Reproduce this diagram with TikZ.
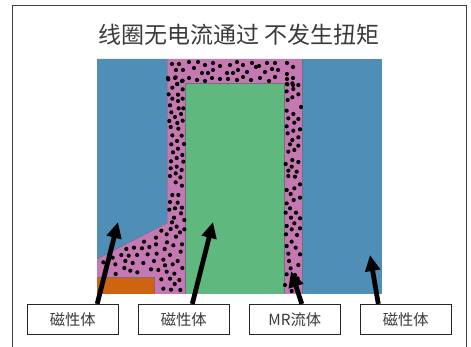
\documentclass[tikz,border=0pt]{standalone}
\usepackage{fontspec}
\setmainfont{Noto Sans CJK SC}
\usetikzlibrary{arrows.meta}
\definecolor{magblue}{HTML}{4F8EB6}
\definecolor{fluidpink}{HTML}{C678B3}
\definecolor{coilgreen}{HTML}{5FB87E}
\definecolor{coilorange}{HTML}{CE6410}
\definecolor{edgegray}{HTML}{6F6F80}
\definecolor{txt}{HTML}{3A3A3A}
\tikzset{
  labelbox/.style={draw=black!85,line width=.8pt,fill=white,minimum width=91pt,minimum height=30pt,inner sep=0pt,text=txt,font=\fontsize{15.3}{17}\selectfont,anchor=center},
  bigarrow/.style={line width=4.8pt,-{Triangle[length=16pt,width=14.5pt]},black},
  part/.style={draw=edgegray,line width=.5pt},
  grain/.style={black}
}
\begin{document}
\begin{tikzpicture}[x=1pt,y=-1pt]
\useasboundingbox (0,0) rectangle (471,347);
\draw[line width=.9pt,black!75] (12.5,347) -- (12.5,5.5) -- (466,5.5) -- (466,347);
\node[text=txt,font=\fontsize{23}{25}\selectfont,inner sep=0pt] (title) at (239,35) {线圈无电流通过 不发生扭矩};
% fluid gap
\fill[fluidpink] (167,59) -- (302,59) -- (302,294) -- (97,294) -- (97,259) -- (167,223) -- cycle;
% magnets
\fill[magblue] (97,59) -- (167,59) -- (167,223) -- (97,259) -- cycle;
\draw[part] (167,59) -- (167,223) -- (97,259);
\fill[magblue] (302,59) rectangle (382,294);
\draw[part] (302,59) -- (302,294);
\fill[coilgreen] (185.5,83) rectangle (284,294);
\draw[part] (185.5,294) -- (185.5,83) -- (284,83) -- (284,294);
\fill[coilorange] (97,277) rectangle (154,294);
\draw[part,draw=edgegray!80!coilorange] (97,277) -- (154,277) -- (154,294);
% grains, top band
\foreach \a/\b in {172/64,179/64,189/62,198/62,205/65,213/63,220/66,230/65,237/62,243/65,252/63,259/66,267/63,275/63,287/63,293/67,176/70,183/70,194/68,202/73,208/73,213/70,227/73,233/73,238/70,247/72,256/67,265/72,272/69,278/70,287/74,168/78,175/78,182/81,189/78,197/80,205/81,212/78,220/79,228/79,237/80,243/77,251/80,260/78,269/81,275/77,287/79,293/78,177/84,287/84,293/85}
  \fill[grain] (\a,\b) circle (2.1);
% left band
\foreach \a/\b in {505/238,527/232,548/242,532/252,517/263,548/268,506/283,534/284,517/296,548/296,534/303,510/316,536/325,550/325,543/342,514/337,525/351,508/363,532/369,548/362,512/381,535/386,517/406,545/407,531/423,514/433,552/432,534/446,519/457,530/474,547/465,513/484,550/485,530/500,512/505,545/510,527/520}
  \fill[grain] (\a/3,\b/3) circle (2.1);
% left band lower and bottom-left region
\foreach \a/\b in {510/3,541/7,527/22,546/32,517/60,535/60,510/81,533/83,546/98,525/100,508/104,543/115,522/128,516/142,553/135,530/155,512/162,553/163,484/167,540/172,500/178,468/188,528/185,432/200,501/202,468/208,520/211,546/208,448/216,402/218,426/220,379/222,494/222,542/230,443/238,470/236,364/240,386/242,411/240,510/240,338/248,310/262,376/258,398/264,462/258,490/254,533/258,346/268,430/264,518/268,495/271,547/279,373/279,391/287,412/292,453/283,475/285,500/290,523/296,347/297,484/313,510/311,538/315,524/327,490/341,513/344,541/345}
  \fill[grain] (\a/3,\b/3+175) circle (2.1);
% right band upper
\foreach \a/\b in {172/250,157/253,190/255,175/267,155/274,172/292,190/283,158/300,198/321,155/332,175/342,160/355,190/357,178/368,155/379,195/388,175/392,158/400,190/412,172/420,165/433,190/437,178/450,160/455,172/480,152/492,190/486,170/500,160/512,185/515}
  \fill[grain] (\a/3+235,\b/3) circle (2.1);
% right band lower
\foreach \a/\b in {160/3,180/5,195/28,155/45,178/40,167/57,195/68,155/85,176/75,165/100,152/113,183/113,168/128,195/130,155/153,178/145,170/163,195/160,153/178,186/180,170/200,155/213,182/218,160/236,195/238,162/258,190/270,167/280,155/298,180/300,150/330,170/348,188/310}
  \fill[grain] (\a/3+235,\b/3+175) circle (2.1);
% labels
\node[labelbox] (b1) at (72.7,319.3) {磁性体};
\node[labelbox] (b2) at (183.8,319.3) {磁性体};
\node[labelbox] (b3) at (294.8,319.3) {MR流体};
\node[labelbox] (b4) at (405.8,319.3) {磁性体};
% arrow tips
\coordinate (t1) at (118,222);
\coordinate (t2) at (213,222);
\coordinate (t3) at (291,271);
\coordinate (t4) at (370,255);
\draw[bigarrow] ([xshift=24.5pt]b1.north) -- (t1);
\draw[bigarrow] ([xshift=8.5pt]b2.north) -- (t2);
\draw[bigarrow] ([xshift=7pt]b3.north) -- (t3);
\draw[bigarrow] ([xshift=-27.5pt]b4.north) -- (t4);
\end{tikzpicture}
\end{document}
